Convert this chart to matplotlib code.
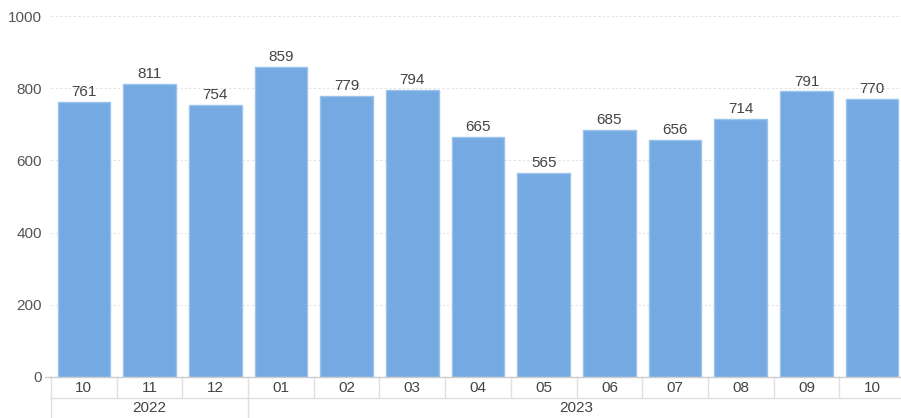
import matplotlib
matplotlib.use("Agg")
import matplotlib.pyplot as plt
from matplotlib.transforms import blended_transform_factory

months = ["10", "11", "12", "01", "02", "03", "04", "05", "06", "07", "08", "09", "10"]
values = [761, 811, 754, 859, 779, 794, 665, 565, 685, 656, 714, 791, 770]
years = ["2022", "2023"]
year_counts = [3, 10]
yticks = [0, 200, 400, 600, 800, 1000]

plt.rcParams['font.family'] = ['Liberation Sans', 'DejaVu Sans']

W, H = 901, 418
fig = plt.figure(figsize=(W / 100, H / 100), dpi=100)
ax = fig.add_axes([51 / W, (H - 377) / H, (905 - 51) / W, (377 - 16) / H])

x = list(range(len(months)))
ax.bar(x, values, width=0.8, color="#74a9e1", edgecolor="#9cc3ec", linewidth=1.0, zorder=2)
for xi, v in zip(x, values):
    ax.text(xi, v + 8, str(v), ha="center", va="bottom", fontsize=11, color="#444444", zorder=3)

ax.set_xlim(-0.5, len(months) - 0.5)
ax.set_ylim(0, 1000)
ax.set_yticks(yticks)
ax.set_yticklabels([str(t) for t in yticks], fontsize=11, color="#555555")
ax.tick_params(axis="y", length=0, pad=6.5)
ax.set_xticks([])
for t in yticks[1:]:
    ax.axhline(t, color="#e3e3e3", linewidth=0.8, linestyle=(0, (2, 2)), zorder=1)

for s in ["top", "right", "left"]:
    ax.spines[s].set_visible(False)
ax.spines["bottom"].set_color("#cccccc")
ax.spines["bottom"].set_linewidth(1.0)

ah = 377 - 16
trans = blended_transform_factory(ax.transData, ax.transAxes)
row1 = -21 / ah
row2 = -41 / ah
sep_color = "#e0e0e0"

# month labels and separators
for xi, m in zip(x, months):
    ax.text(xi, -11 / ah, m, transform=trans, ha="center", va="center", fontsize=11, color="#444444")
for k in range(len(months) + 1):
    ax.plot([k - 0.5, k - 0.5], [0, row1], transform=trans, color=sep_color, linewidth=1.0, clip_on=False)
ax.plot([-0.5, len(months) - 0.5], [row1, row1], transform=trans, color=sep_color, linewidth=1.0, clip_on=False)

# year labels and separators
start = 0
for yl, c in zip(years, year_counts):
    ax.text(start + (c - 1) / 2, -31 / ah, yl, transform=trans, ha="center", va="center", fontsize=11, color="#444444")
    ax.plot([start - 0.5, start - 0.5], [row1, row2], transform=trans, color=sep_color, linewidth=1.0, clip_on=False)
    start += c
ax.plot([start - 0.5, start - 0.5], [row1, row2], transform=trans, color=sep_color, linewidth=1.0, clip_on=False)

# tick at zero on the y axis
ax.plot([-0.5 - 0.09, -0.5], [0, 0], transform=trans, color="#cccccc", linewidth=1.0, clip_on=False)

fig.savefig("out.png", dpi=100)
